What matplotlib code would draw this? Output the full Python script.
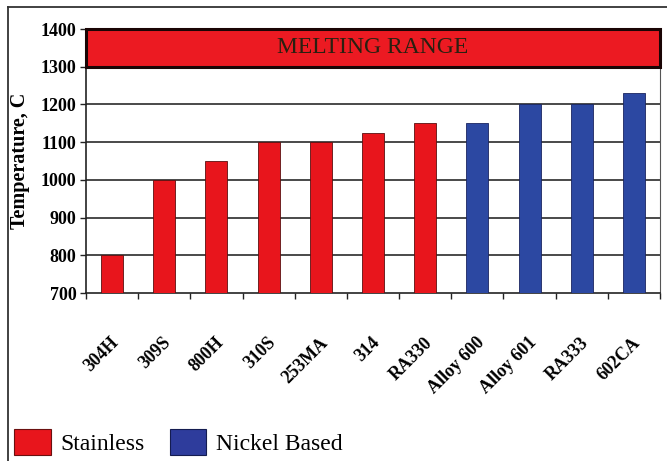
import matplotlib
matplotlib.use("Agg")
import matplotlib.pyplot as plt
import matplotlib.transforms as mtransforms
from matplotlib.patches import Rectangle, Patch
from matplotlib.lines import Line2D
import numpy as np

categories = ["304H", "309S", "800H", "310S", "253MA", "314", "RA330",
              "Alloy 600", "Alloy 601", "RA333", "602CA"]
temperatures = [800, 1000, 1050, 1100, 1100, 1125, 1150, 1150, 1200, 1200, 1230]
groups = ["Stainless"] * 7 + ["Nickel Based"] * 4
melting_low, melting_high = 1300, 1400
y_ticks = [700, 800, 900, 1000, 1100, 1200, 1300, 1400]

RED = "#e8151c"
BLUE = "#2c48a2"
group_colors = {"Stainless": RED, "Nickel Based": BLUE}
SERIF = ["Liberation Serif", "DejaVu Serif"]

fig = plt.figure(figsize=(6.67, 4.61), dpi=100)
fig.patch.set_facecolor("white")
ax = fig.add_axes([86 / 667, 1 - 293 / 461, (660 - 86) / 667, (293 - 29) / 461])

x = np.arange(len(categories))
ax.set_xlim(-0.5, len(categories) - 0.5)
ax.set_ylim(700, 1400)

# grid lines
for yv in y_ticks[1:-2]:
    ax.axhline(yv, color="#3a3a3a", lw=1.3, zorder=1)

bars = ax.bar(x, temperatures, width=0.42,
              color=[group_colors[g] for g in groups],
              edgecolor="#5a1010", linewidth=0.6, zorder=3)
for b, g in zip(bars, groups):
    if g == "Nickel Based":
        b.set_edgecolor("#1a2560")

# melting range band
rect = Rectangle((-0.5, melting_low), len(categories), melting_high - melting_low,
                 facecolor="#ec1a22", edgecolor="#1a0505", linewidth=2.2, zorder=4,
                 clip_on=False)
ax.add_patch(rect)
ax.text((len(categories) - 1) / 2, (melting_low + melting_high) / 2, "MELTING RANGE",
        ha="center", va="center", fontsize=17, family=SERIF, color="#2a2010",
        zorder=5)

# spines
ax.spines["top"].set_visible(False)
ax.spines["right"].set_color("#555555")
ax.spines["right"].set_linewidth(0.8)
ax.spines["left"].set_color("#222222")
ax.spines["left"].set_linewidth(1.2)
ax.spines["bottom"].set_color("#222222")
ax.spines["bottom"].set_linewidth(1.2)

ax.set_yticks(y_ticks)
ax.set_yticklabels([str(v) for v in y_ticks], fontsize=13, fontweight="bold",
                   family=SERIF)
ax.tick_params(axis="y", direction="out", length=4, width=1.0, pad=3,
               color="#222222")

ax.set_xticks(x)
ax.set_xticks(np.arange(-0.5, len(categories) + 0.5, 1), minor=True)
ax.set_xticklabels(categories, rotation=45, ha="right", va="center",
                   rotation_mode="anchor", fontsize=13, fontweight="bold",
                   family=SERIF)
ax.tick_params(axis="x", which="major", length=0, pad=34)
ax.tick_params(axis="x", which="minor", direction="out", length=4, width=1.0,
               color="#222222")
offset = mtransforms.ScaledTranslation(3 / 72, 0, fig.dpi_scale_trans)
for lab in ax.get_xticklabels():
    lab.set_transform(lab.get_transform() + offset)

fig.text(20 / 667, 1 - 161 / 461, "Temperature, C", rotation=90, ha="center",
         va="center", fontsize=14.5, fontweight="bold", family=SERIF)

# legend
handles = [Patch(facecolor=RED, edgecolor="#6a1010", linewidth=0.8, label="Stainless"),
           Patch(facecolor="#2e3c9c", edgecolor="#141c50", linewidth=0.8, label="Nickel Based")]
fig.legend(handles=handles, loc="lower left", bbox_to_anchor=(14 / 667, 6 / 461),
           ncol=2, frameon=False, prop={"family": SERIF, "size": 17},
           handlelength=1.55, handleheight=1.3, handletextpad=0.42,
           columnspacing=1.05, borderpad=0, borderaxespad=0)

# outer frame lines
fig.add_artist(Line2D([8 / 667, 8 / 667], [0, 1 - 7 / 461], transform=fig.transFigure,
                      color="#333333", lw=1.3))
fig.add_artist(Line2D([8 / 667, 1], [1 - 7 / 461, 1 - 7 / 461], transform=fig.transFigure,
                      color="#333333", lw=1.3))

fig.savefig("out.png", dpi=100)
